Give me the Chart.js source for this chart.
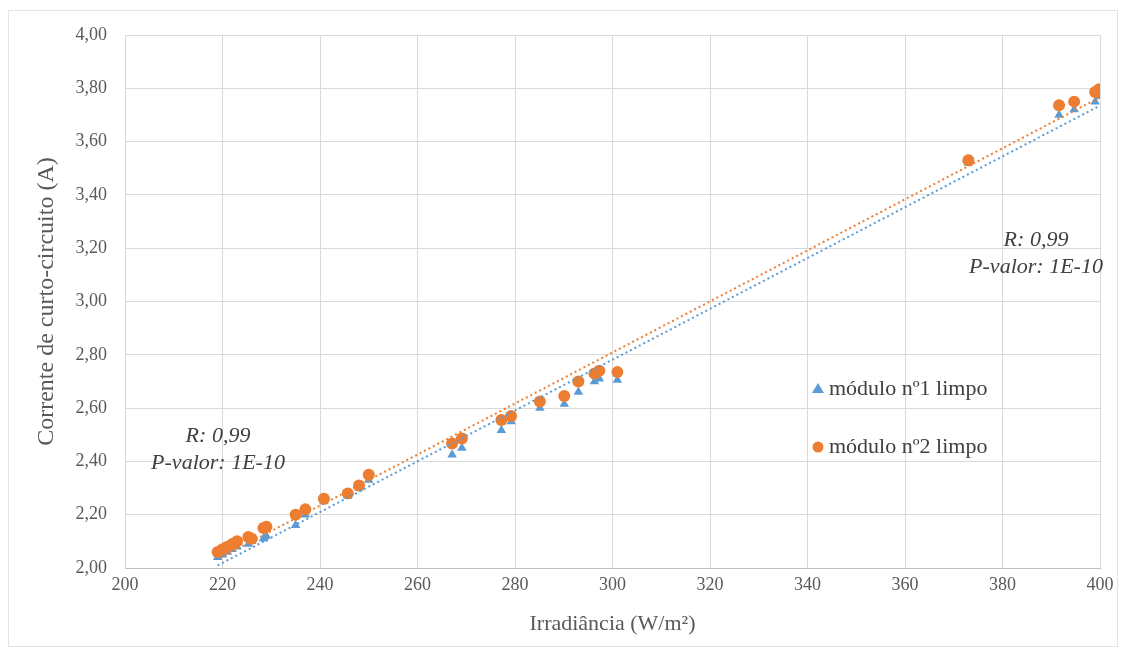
<!DOCTYPE html>
<html>
<head>
<meta charset="utf-8">
<script src="https://cdn.jsdelivr.net/npm/chart.js@4.4.1/dist/chart.umd.min.js"></script>
<style>
  html, body { margin: 0; padding: 0; background: #fff; }
  #wrap { position: relative; width: 1128px; height: 655px; }
  #wrap::before { content: ""; position: absolute; left: 8px; top: 10px; right: 10px; bottom: 8px; border: 1px solid #e4e4e4; pointer-events: none; }
</style>
</head>
<body>
<div id="wrap"><canvas id="chart" width="1128" height="655"></canvas></div>
<script>
// irradiância (W/m²) e corrente de curto-circuito (A)
const irradiancia = [219, 220, 221, 222, 223, 225.3, 226, 228.4, 229, 235, 237, 240.8, 245.7, 248, 250,
  267.1, 269.1, 277.2, 279.2, 285.1, 290.1, 293, 296.3, 297.3, 301, 373, 391.6, 394.7, 399, 399.8];
const modulo1 = [2.04, 2.05, 2.06, 2.07, 2.08, 2.09, 2.10, 2.11, 2.12, 2.16, 2.20, 2.25, 2.27, 2.30, 2.33,
  2.425, 2.45, 2.517, 2.55, 2.60, 2.615, 2.66, 2.70, 2.71, 2.705, 3.52, 3.70, 3.72, 3.75, 3.77];
const modulo2 = [2.06, 2.07, 2.08, 2.09, 2.10, 2.116, 2.11, 2.15, 2.155, 2.20, 2.22, 2.26, 2.28, 2.31, 2.35,
  2.467, 2.486, 2.555, 2.57, 2.625, 2.645, 2.70, 2.73, 2.74, 2.735, 3.53, 3.736, 3.75, 3.786, 3.796];
const nomes = ["módulo nº1 limpo", "módulo nº2 limpo"];
const anotacao = ["R: 0,99", "P-valor: 1E-10"];

const azul = "#5B9BD5";
const laranja = "#ED7D31";
const serif = "'Liberation Serif', 'DejaVu Serif', serif";

function pontos(ys) {
  return irradiancia.map((x, i) => ({ x: x, y: ys[i] }));
}

// linha de tendência linear (mínimos quadrados) sobre os dados
function tendencia(ys) {
  const n = irradiancia.length;
  const mx = irradiancia.reduce((a, b) => a + b, 0) / n;
  const my = ys.reduce((a, b) => a + b, 0) / n;
  let sxy = 0, sxx = 0;
  irradiancia.forEach((x, i) => { sxy += (x - mx) * (ys[i] - my); sxx += (x - mx) * (x - mx); });
  const b = sxy / sxx, a = my - b * mx;
  const x0 = Math.min(...irradiancia), x1 = Math.max(...irradiancia);
  return [{ x: x0, y: a + b * x0 }, { x: x1, y: a + b * x1 }];
}

// legenda e textos R / P-valor desenhados dentro da área do gráfico
const extras = {
  id: "extras",
  afterDatasetsDraw(chart) {
    const ctx = chart.ctx;
    ctx.save();
    ctx.textBaseline = "middle";
    ctx.font = "22px " + serif;
    const leg = [{ y: 389, ds: 0 }, { y: 447, ds: 1 }];
    leg.forEach(l => {
      const ds = chart.data.datasets[l.ds];
      ctx.fillStyle = ds.backgroundColor;
      ctx.beginPath();
      if (ds.pointStyle === "triangle") {
        ctx.moveTo(818, l.y - 6); ctx.lineTo(824, l.y + 4); ctx.lineTo(812, l.y + 4); ctx.closePath();
      } else {
        ctx.arc(818, l.y, 5.5, 0, Math.PI * 2);
      }
      ctx.fill();
      ctx.fillStyle = "#404040";
      ctx.textAlign = "left";
      ctx.fillText(nomes[l.ds], 829, l.y);
    });
    ctx.font = "italic 22px " + serif;
    ctx.fillStyle = "#404040";
    ctx.textAlign = "center";
    [[218, 436], [1036, 240]].forEach(p => {
      ctx.fillText(anotacao[0], p[0], p[1]);
      ctx.fillText(anotacao[1], p[0], p[1] + 27);
    });
    ctx.restore();
  }
};

const ctx = document.getElementById("chart").getContext("2d");
new Chart(ctx, {
  type: "scatter",
  data: {
    datasets: [
      {
        label: nomes[0],
        data: pontos(modulo1),
        pointStyle: "triangle",
        pointRadius: 5.5,
        backgroundColor: azul,
        borderColor: azul,
        borderWidth: 0,
        order: 3
      },
      {
        label: nomes[1],
        data: pontos(modulo2),
        pointStyle: "circle",
        pointRadius: 6,
        backgroundColor: laranja,
        borderColor: laranja,
        borderWidth: 0,
        order: 2
      },
      {
        label: "tendência 1",
        data: tendencia(modulo1),
        showLine: true,
        pointRadius: 0,
        borderColor: azul,
        borderWidth: 2,
        borderDash: [2, 3],
        order: 1
      },
      {
        label: "tendência 2",
        data: tendencia(modulo2),
        showLine: true,
        pointRadius: 0,
        borderColor: laranja,
        borderWidth: 2,
        borderDash: [2, 3],
        borderDashOffset: 2,
        order: 0
      }
    ]
  },
  options: {
    responsive: false,
    animation: false,
    layout: { padding: { left: 28, right: 28, top: 35, bottom: 14 } },
    plugins: {
      legend: { display: false },
      tooltip: { enabled: false }
    },
    scales: {
      x: {
        type: "linear",
        min: 200,
        max: 400,
        ticks: { stepSize: 20, color: "#595959", font: { family: serif, size: 18 }, padding: 6 },
        grid: { color: "#d9d9d9", drawTicks: false },
        border: { color: "#bfbfbf" },
        title: { display: true, text: "Irradiância (W/m²)", color: "#595959", font: { family: serif, size: 22 }, padding: { top: 6 } },
        afterFit(s) { s.height = 73; }
      },
      y: {
        min: 2,
        max: 4,
        ticks: {
          stepSize: 0.2,
          color: "#595959",
          font: { family: serif, size: 18 },
          padding: 18,
          callback: v => v.toFixed(2).replace(".", ",")
        },
        grid: { color: "#d9d9d9", drawTicks: false },
        border: { display: false },
        title: { display: true, text: "Corrente de curto-circuito (A)", color: "#595959", font: { family: serif, size: 24 } },
        afterFit(s) { s.width = 97; }
      }
    }
  },
  plugins: [extras]
});
</script>
</body>
</html>
